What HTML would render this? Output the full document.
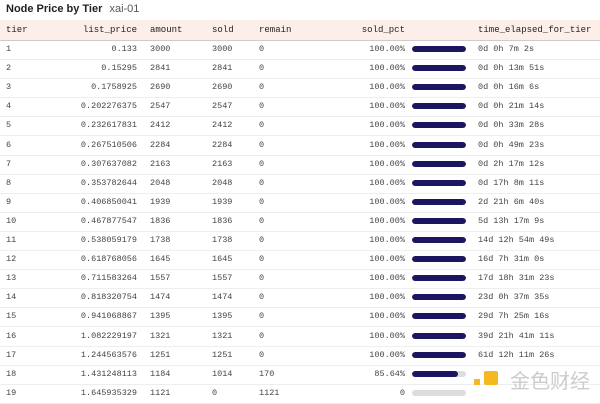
<!DOCTYPE html>
<html><head><meta charset="utf-8"><style>
body{margin:0;width:600px;height:404px;background:#fff;overflow:hidden;position:relative;font-family:"Liberation Mono",monospace;}
.t{position:absolute;left:6px;top:3px;font:bold 11px "Liberation Sans",sans-serif;color:#222}
.t span{font-weight:normal;color:#555;margin-left:4px}
.hdr{position:absolute;left:0;top:20px;width:600px;height:20px;background:#fcefe9;border-bottom:1px solid #ccc}
.r{position:absolute;left:0;width:600px;height:19px;border-bottom:1px solid #eee;font-size:8.5px;color:#444}
.c{position:absolute;top:0;line-height:19px;white-space:pre}
.h .c{color:#222;line-height:20px;font-size:9px}
.bar{position:absolute;left:412px;top:6px;width:54px;height:6px;border-radius:3px;background:#ddd;overflow:hidden}
.bar i{display:block;height:100%;background:#1c1660;border-radius:3px}
</style></head><body>
<div class="t">Node Price by Tier <span>xai-01</span></div>
<div class="hdr"></div>
<div class="r h" style="top:20px;border:none">
<div class="c" style="left:6px">tier</div><div class="c" style="right:463px">list_price</div><div class="c" style="left:150px">amount</div><div class="c" style="left:212px">sold</div><div class="c" style="left:259px">remain</div><div class="c" style="right:195px">sold_pct</div><div class="c" style="left:478px">time_elapsed_for_tier</div>
</div>
<div id="rows"></div>
<div style="position:absolute;left:484px;top:371px;width:14px;height:14px;background:#f5b820;border-radius:2px"></div>
<div style="position:absolute;left:474px;top:379px;width:6px;height:6px;background:#f5b820"></div>
<div style="position:absolute;left:510px;top:369px;font:20px 'Noto Sans CJK SC',sans-serif;color:#ccc;white-space:nowrap;line-height:22px">金色财经</div>
<script>
var d=[[1,"0.133",3000,3000,0,100,"0d 0h 7m 2s"],[2,"0.15295",2841,2841,0,100,"0d 0h 13m 51s"],[3,"0.1758925",2690,2690,0,100,"0d 0h 16m 6s"],[4,"0.202276375",2547,2547,0,100,"0d 0h 21m 14s"],[5,"0.232617831",2412,2412,0,100,"0d 0h 33m 28s"],[6,"0.267510506",2284,2284,0,100,"0d 0h 49m 23s"],[7,"0.307637082",2163,2163,0,100,"0d 2h 17m 12s"],[8,"0.353782644",2048,2048,0,100,"0d 17h 8m 11s"],[9,"0.406850041",1939,1939,0,100,"2d 21h 6m 40s"],[10,"0.467877547",1836,1836,0,100,"5d 13h 17m 9s"],[11,"0.538059179",1738,1738,0,100,"14d 12h 54m 49s"],[12,"0.618768056",1645,1645,0,100,"16d 7h 31m 0s"],[13,"0.711583264",1557,1557,0,100,"17d 18h 31m 23s"],[14,"0.818320754",1474,1474,0,100,"23d 0h 37m 35s"],[15,"0.941068867",1395,1395,0,100,"29d 7h 25m 16s"],[16,"1.082229197",1321,1321,0,100,"39d 21h 41m 11s"],[17,"1.244563576",1251,1251,0,100,"61d 12h 11m 26s"],[18,"1.431248113",1184,1014,170,85.64,""],[19,"1.645935329",1121,0,1121,0,""]];
var h="";d.forEach(function(r,i){var top=40+i*19.1;var p=r[5]==100?"100.00%":r[5]==0?"0":r[5].toFixed(2)+"%";
h+='<div class="r" style="top:'+top+'px"><div class="c" style="left:6px">'+r[0]+'</div><div class="c" style="right:463px">'+r[1]+'</div><div class="c" style="left:150px">'+r[2]+'</div><div class="c" style="left:212px">'+r[3]+'</div><div class="c" style="left:259px">'+r[4]+'</div><div class="c" style="right:195px">'+p+'</div><div class="bar"><i style="width:'+r[5]+'%"></i></div><div class="c" style="left:478px">'+r[6]+'</div></div>';});
document.getElementById("rows").innerHTML=h;
</script>
</body></html>
